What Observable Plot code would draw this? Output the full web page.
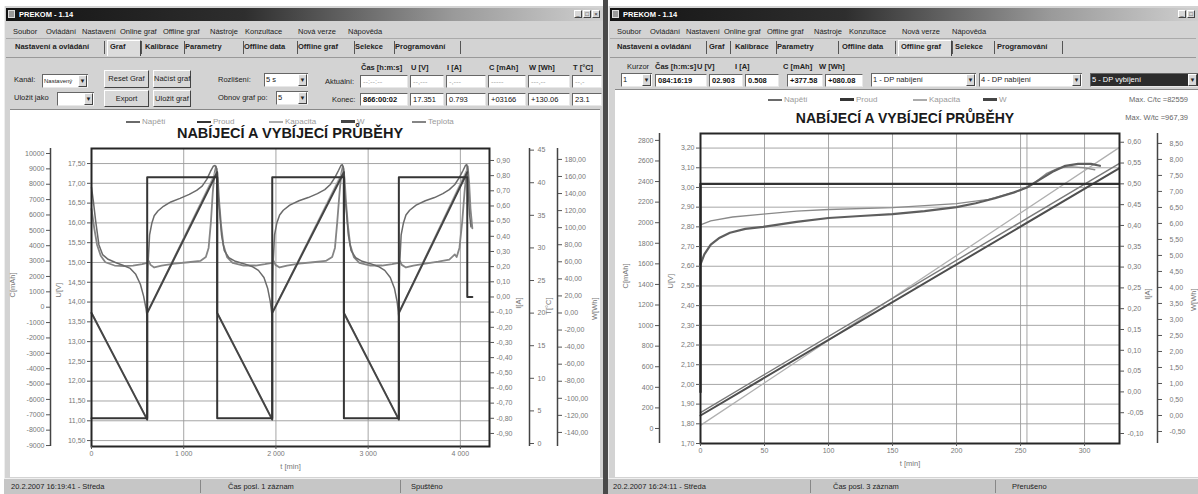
<!DOCTYPE html>
<html><head><meta charset="utf-8">
<script src="https://cdn.jsdelivr.net/npm/d3@7"></script>
<script src="https://cdn.jsdelivr.net/npm/@observablehq/plot@0.6"></script>
<style>
html,body{margin:0;padding:0;background:#fff;}
#root{position:relative;width:1198px;height:494px;overflow:hidden;font-family:"Liberation Sans",Arial,sans-serif;font-size:7.5px;color:#222;}
.a{position:absolute;white-space:nowrap;box-sizing:border-box;}
.tb{background:linear-gradient(to right,#141414 0%,#2e2e2e 40%,#9a9a9a 75%,#cfcfcf 100%);}
.btn{background:#d8d8d8;border-top:1px solid #fff;border-left:1px solid #fff;border-right:1px solid #444;border-bottom:1px solid #444;text-align:center;}
.inp{background:#fff;border-top:1px solid #666;border-left:1px solid #666;border-right:1px solid #e8e8e8;border-bottom:1px solid #e8e8e8;padding-left:2px;overflow:hidden;}
.sw{display:inline-block;width:14px;height:2px;vertical-align:middle;margin-right:2px;}
</style></head><body><div id="root"></div>
<script>
// ================= DATA =================
const seriesNames = ["Napětí", "Proud", "Kapacita", "W", "Teplota"];
const chartTitle = "NABÍJECÍ A VYBÍJECÍ PRŮBĚHY";

// ---- Left chart (online graf): t [min] ----
const leftXTicks = [0, 1000, 2000, 3000, 4000];
const leftXTickLabels = ["0", "1 000", "2 000", "3 000", "4 000"];
const leftUTicks = [17.5, 17.0, 16.5, 16.0, 15.5, 15.0, 14.5, 14.0, 13.5, 13.0, 12.5, 12.0, 11.5, 11.0, 10.5];
const leftCTicks = [10000, 9000, 8000, 7000, 6000, 5000, 4000, 3000, 2000, 1000, 0, -1000, -2000, -3000, -4000, -5000, -6000, -7000, -8000, -9000];
const leftITicks = [0.9, 0.8, 0.7, 0.6, 0.5, 0.4, 0.3, 0.2, 0.1, 0.0, -0.1, -0.2, -0.3, -0.4, -0.5, -0.6, -0.7, -0.8, -0.9];
const leftTTicks = [45, 40, 35, 30, 25, 20, 15, 10, 5, 0];
const leftWTicks = [180, 160, 140, 120, 100, 80, 60, 40, 20, 0, -20, -40, -60, -80, -100, -120, -140];

// Napětí U [V]
const leftU = [
  [0,16.90],[20,16.55],[45,16.05],[80,15.45],[120,15.20],[180,15.08],[260,15.00],[340,14.93],[420,14.85],[480,14.70],[530,14.45],[565,14.15],[590,13.85],[604,13.62],
  [612,14.90],[630,15.70],[655,16.00],[680,16.18],[720,16.30],[780,16.42],[860,16.53],[960,16.62],[1060,16.72],[1140,16.82],[1200,16.93],[1250,17.10],[1290,17.30],[1320,17.43],[1340,17.45],[1355,17.38],[1363,17.20],
  [1368,16.85],[1385,16.40],[1410,15.70],[1440,15.30],[1490,15.12],[1560,15.03],[1650,14.97],[1740,14.90],[1810,14.80],[1870,14.62],[1910,14.35],[1940,14.00],[1960,13.62],
  [1968,14.90],[1985,15.70],[2010,16.00],[2040,16.20],[2080,16.32],[2150,16.45],[2250,16.56],[2350,16.64],[2450,16.74],[2530,16.84],[2590,16.97],[2640,17.15],[2680,17.33],[2705,17.45],[2720,17.47],[2732,17.40],[2737,17.20],
  [2742,16.85],[2760,16.40],[2785,15.70],[2815,15.30],[2865,15.12],[2935,15.03],[3025,14.97],[3110,14.90],[3180,14.80],[3240,14.62],[3285,14.35],[3315,14.00],[3333,13.62],
  [3341,14.90],[3358,15.70],[3383,16.00],[3410,16.20],[3450,16.32],[3520,16.45],[3620,16.56],[3720,16.64],[3810,16.74],[3880,16.84],[3940,16.97],[3990,17.15],[4030,17.33],[4055,17.45],[4070,17.47],[4078,17.35],
  [4085,16.80],[4100,16.20],[4115,15.90]
];
// Proud I [A]
const leftI = [[0,-0.80],[604,-0.80],[604,0.79],[1363,0.79],[1363,-0.80],[1960,-0.80],[1960,0.79],[2737,0.79],[2737,-0.80],[3333,-0.80],[3333,0.79],[4075,0.79],[4075,0.00],[4130,0.00]];
// Kapacita C [mAh]
const leftC = [[0,-350],[604,-7300],[604,-350],[1363,9000],[1363,-350],[1960,-7300],[1960,-350],[2737,9000],[2737,-350],[3333,-7300],[3333,-350],[4075,9000]];
// W [Wh]
const leftW = [[0,0],[604,-125],[604,0],[1363,165],[1363,0],[1960,-125],[1960,0],[2737,165],[2737,0],[3333,-125],[3333,0],[4075,165]];
// Teplota T [°C]
const leftT = [
  [0,36],[30,33],[60,30.5],[100,28.8],[150,27.8],[250,27.3],[350,27.2],[450,27.3],[550,27.5],[604,27.7],
  [620,28.0],[640,27.4],[680,27.0],[760,27.3],[900,27.6],[1050,27.8],[1180,28.0],[1240,28.6],[1270,30],[1295,34],[1315,38.5],[1335,41.5],[1350,42.5],[1363,41.5],
  [1370,40.5],[1385,37],[1405,33.5],[1430,30.5],[1470,28.6],[1530,27.7],[1650,27.3],[1780,27.3],[1880,27.5],[1960,27.7],
  [1975,28.0],[1995,27.4],[2040,27.0],[2120,27.3],[2250,27.6],[2400,27.8],[2540,28.0],[2610,28.6],[2640,30],[2665,34],[2690,38.5],[2710,41.5],[2725,42.5],[2737,41.5],
  [2745,40.5],[2760,37],[2780,33.5],[2805,30.5],[2845,28.6],[2905,27.7],[3025,27.3],[3150,27.3],[3260,27.5],[3333,27.7],
  [3345,28.0],[3365,27.4],[3410,27.0],[3490,27.3],[3620,27.6],[3760,27.9],[3880,28.2],[3940,29.0],[3960,28.6],[3990,30],[4020,34],[4045,38.5],[4065,41.5],[4080,42.5],[4095,40],[4110,36],[4130,33]
];

// ---- Right chart (offline graf): t [min] ----
const rightXTicks = [0, 50, 100, 150, 200, 250, 300];
const rightCursor = [255];
const rightUTicks = [3.2, 3.1, 3.0, 2.9, 2.8, 2.7, 2.6, 2.5, 2.4, 2.3, 2.2, 2.1, 2.0, 1.9, 1.8, 1.7];
const rightCTicks = [2800, 2600, 2400, 2200, 2000, 1800, 1600, 1400, 1200, 1000, 800, 600, 400, 200, 0];
const rightITicks = [0.60, 0.55, 0.50, 0.45, 0.40, 0.35, 0.30, 0.25, 0.20, 0.15, 0.10, 0.05, 0.00, -0.05, -0.10];
const rightWTicks = [8.5, 8.0, 7.5, 7.0, 6.5, 6.0, 5.5, 5.0, 4.5, 4.0, 3.5, 3.0, 2.5, 2.0, 1.5, 1.0, 0.5, 0.0, -0.5];

const rightU1 = [[0,2.61],[3,2.66],[8,2.71],[15,2.745],[23,2.77],[35,2.79],[49,2.80],[75,2.825],[100,2.845],[125,2.855],[150,2.865],[175,2.88],[200,2.90],[215,2.92],[230,2.945],[245,2.975],[255,3.00],[265,3.04],[275,3.08],[285,3.11],[295,3.12],[305,3.12],[312,3.11]];
const rightU2 = [[0,2.81],[8,2.83],[25,2.85],[49,2.865],[75,2.88],[100,2.888],[150,2.898],[200,2.918],[225,2.94],[250,2.985],[260,3.02],[270,3.07],[280,3.10],[290,3.105],[300,3.10],[308,3.09]];
const rightI = [[0,0.00],[0,0.50],[327,0.50]];
const rightC1 = [[0,155],[327,2575]];
const rightC2 = [[0,30],[327,2730]];
const rightW = [[0,0.0],[327,7.72]];

// ================= HELPERS =================
const root = document.getElementById("root");
function el(x, y, w, h, cls, style, text) {
  const d = document.createElement("div");
  d.className = "a " + (cls || "");
  d.style.left = x + "px"; d.style.top = y + "px";
  if (w != null) d.style.width = w + "px";
  if (h != null) d.style.height = h + "px";
  if (style) Object.assign(d.style, style);
  if (text != null) d.textContent = text;
  root.appendChild(d);
  return d;
}
function txt(x, yc, t, style) { return el(x, yc - 5, null, 10, "", Object.assign({lineHeight: "10px"}, style || {}), t); }
function combo(x, y, w, h, t, dark, fs) {
  const b = el(x, y, w - 10, h, "inp", {lineHeight: (h - 2) + "px", background: dark ? "#2c2c2c" : "#fff", color: dark ? "#fff" : "#222", borderRight: "none", fontSize: fs || "7.5px", paddingLeft: "1px"}, t);
  el(x + w - 10, y, 10, h, "", {background: dark ? "#2c2c2c" : "#fff", borderTop: "1px solid #666", borderBottom: "1px solid #e8e8e8"});
  el(x + w - 10, y + 1, 9, h - 2, "btn", {lineHeight: (h - 4) + "px", fontSize: "6px"}, "▼");
  return b;
}
function button(x, y, w, h, t) { return el(x, y, w, h, "btn", {lineHeight: (h - 2) + "px"}, t); }
function box(x, y, w, h, t, color, bold) { return el(x, y, w, h, "inp", {lineHeight: (h - 2) + "px", color: color || "#222", fontWeight: bold ? "bold" : "normal"}, t); }

function windowChrome(ox, w, tabs, selTab) {
  el(ox, 6, w, 488, "", {background: "#d3d3d3", borderLeft: "1px solid #eee"});
  el(ox + 2, 8, w - 2, 13, "tb");
  el(ox + 4, 10, 7, 8, "", {background: "#9a9a9a", border: "1px solid #ddd"});
  el(ox + 15, 8, null, 13, "", {color: "#fff", fontWeight: "bold", fontSize: "7.5px", lineHeight: "13px"}, "PREKOM - 1.14");
  const menu = [["Soubor", 9], ["Ovládání", 42], ["Nastavení", 78], ["Online graf", 116], ["Offline graf", 159], ["Nástroje", 206], ["Konzultace", 241], ["Nová verze", 294], ["Nápověda", 344]];
  for (const [m, x] of menu) txt(ox + x, 32, m);
  el(ox + 2, 38, w - 4, 1, "", {background: "#aaa"});
  for (const [t, x, wd] of tabs) {
    if (t === selTab) el(ox + x - 3, 40, wd + 6, 16, "", {background: "#dcdcdc", borderTop: "1px solid #fff", borderLeft: "1px solid #fff", borderRight: "1px solid #444"});
    txt(ox + x, 47, t, {fontWeight: "bold"});
    el(ox + x + wd + 3, 41, 1, 13, "", {background: "#555"});
  }
  el(ox + 2, 57, w - 4, 1, "", {background: "#999"});
}

// ================= CHROME =================
el(603, 0, 5, 494, "", {background: "#4a4a4a"});
windowChrome(4, 599, [["Nastavení a ovládání", 11, 86], ["Graf", 106, 28], ["Kalibrace", 141, 36], ["Parametry", 181, 55], ["Offline data", 240, 50], ["Offline graf", 294, 53], ["Selekce", 351, 36], ["Programování", 391, 62]], "Graf");
windowChrome(608, 590, [["Nastavení a ovládání", 9, 86], ["Graf", 101, 18], ["Kalibrace", 127, 38], ["Parametry", 169, 58], ["Offline data", 234, 50], ["Offline graf", 293, 48], ["Selekce", 347, 36], ["Programování", 389, 62]], "Offline graf");
for (const bx of [574, 583, 592]) el(bx, 10, 8, 8, "btn", {fontSize: "6px", lineHeight: "6px"}, bx === 574 ? "_" : bx === 583 ? "□" : "×");
for (const bx of [1178, 1187]) el(bx, 10, 8, 8, "btn", {fontSize: "6px", lineHeight: "6px"}, bx === 1178 ? "_" : "□");

// Left toolbar
txt(14, 80, "Kanál:"); combo(42, 74, 46, 14, "Nastavený", false, "6px");
txt(14, 98, "Uložit jako"); combo(57, 92, 37, 14, "");
button(104, 70, 45, 18, "Reset Graf"); button(153, 70, 38, 18, "Načíst graf");
button(104, 90, 45, 17, "Export"); button(153, 90, 38, 17, "Uložit graf");
txt(218, 80, "Rozlišení:"); combo(264, 73, 44, 14, "5 s");
txt(218, 98, "Obnov graf po:"); combo(276, 91, 32, 14, "5");
txt(325, 82, "Aktuální:"); txt(332, 100, "Konec:");
const lHead = [["Čas [h:m:s]", 360, 48], ["U [V]", 410, 34], ["I [A]", 446, 40], ["C [mAh]", 488, 38], ["W [Wh]", 528, 42], ["T [°C]", 572, 30]];
const lCur = ["--:--:--", "--,---", "-,---", "-----", "---,--", "--,-"];
const lEnd = ["866:00:02", "17.351", "0.793", "+03166", "+130.06", "23.1"];
lHead.forEach(([h, x, w], i) => {
  txt(x + 1, 68, h, {fontWeight: "bold"});
  box(x, 75, w, 13, lCur[i], "#aaa");
  box(x, 93, w, 13, lEnd[i], "#111", i === 0);
});
el(10, 109, 590, 368, "", {background: "#fff", borderTop: "1px solid #888"});
el(4, 478, 599, 16, "", {background: "#c6c6c6", borderTop: "1px solid #f0f0f0"});
txt(11, 487, "20.2.2007 16:19:41 - Středa"); el(200, 480, 1, 13, "", {background: "#888"});
txt(228, 487, "Čas posl. 1 záznam"); el(400, 480, 1, 13, "", {background: "#888"});
txt(411, 487, "Spuštěno");

// Right toolbar
const rHead = [["Kurzor", 627], ["Čas [h:m:s]", 655], ["U [V]", 697], ["I [A]", 735], ["C [mAh]", 783], ["W [Wh]", 819]];
rHead.forEach(([h, x], i) => txt(x, 67, h, {fontWeight: i ? "bold" : "normal"}));
combo(621, 73, 31, 14, "1");
[["084:16:19", 655, 52], ["02.903", 709, 34], ["0.508", 745, 34], ["+377.58", 787, 36], ["+080.08", 825, 38]].forEach(([t, x, w]) => box(x, 74, w, 13, t, "#111", true));
combo(871, 73, 105, 14, "1 - DP nabíjení"); combo(979, 73, 103, 14, "4 - DP nabíjení"); combo(1090, 73, 108, 14, "5 - DP vybíjení", true);
el(615, 89, 583, 388, "", {background: "#fff", borderTop: "1px solid #888"});
el(608, 478, 590, 16, "", {background: "#c6c6c6", borderTop: "1px solid #f0f0f0"});
txt(613, 487, "20.2.2007 16:24:11 - Středa"); el(810, 480, 1, 13, "", {background: "#888"});
txt(833, 487, "Čas posl. 3 záznam"); el(995, 480, 1, 13, "", {background: "#888"});
txt(1012, 487, "Přerušeno");

// ================= CHARTS =================
const colors = {U: "#6a6a6a", I: "#353535", C: "#ababab", W: "#454545", T: "#858585"};
const comma = (v, d) => v.toFixed(d).replace(".", ",");

function legend(x0, yc, items) {
  for (const [name, col, x, w] of items) {
    const d = el(x0 + x, yc - 5, null, 10, "", {lineHeight: "10px", color: "#9a9a9a", fontSize: "8px"});
    d.innerHTML = `<span class="sw" style="background:${col};height:${w}px"></span>${name}`;
  }
}

function makeChart(cfg) {
  const [u0, u1] = cfg.uDomain;
  const conv = ax => v => u0 + (v - ax.domain[0]) * (u1 - u0) / (ax.domain[1] - ax.domain[0]);
  const marks = [];
  marks.push(Plot.ruleY(cfg.uTicks, {stroke: "#9c9c9c", strokeWidth: 0.9}));
  marks.push(Plot.ruleX(cfg.xGrid, {stroke: "#9c9c9c", strokeWidth: 0.9}));
  for (const s of cfg.series) {
    const f = s.axis ? conv(s.axis) : (v => v);
    const rows = s.data.map(([t, v]) => ({t, y: f(v)}));
    marks.push(Plot.line(rows, {x: "t", y: "y", stroke: s.color, strokeWidth: s.width, strokeLinejoin: "round"}));
  }
  marks.push(Plot.frame({stroke: "#262626", strokeWidth: 2}));
  const xl = new Map(cfg.xTicks.map((d, i) => [d, cfg.xLabels[i]]));
  marks.push(Plot.axisX(cfg.xTicks, {label: null, tickSize: 3, tickPadding: 2, tickFormat: d => xl.get(d), fill: "#777", stroke: "#555"}));
  marks.push(Plot.text([cfg.xTitle], {frameAnchor: "bottom", dy: 22, fill: "#777", fontSize: 7.5}));
  marks.push(Plot.axisY(cfg.uTicks, {label: null, anchor: "left", tickSize: 4, tickPadding: 2, tickFormat: d => comma(d, 2), fill: "#777", stroke: "#555"}));
  for (const ax of cfg.axes) {
    const f = conv(ax);
    const vals = ax.ticks.map(f);
    const lab = new Map(vals.map((v, i) => [v, ax.fmt(ax.ticks[i])]));
    const right = ax.side === "right";
    marks.push(Plot.axisY(vals, {label: null, anchor: ax.side, dx: ax.dx, tickSize: 4, tickPadding: ax.pad || 2, tickFormat: d => lab.get(d), fill: "#777", stroke: "#555"}));
    if (ax.dx !== 0) marks.push(Plot.ruleX([right ? cfg.xDomain[1] : cfg.xDomain[0]], {dx: ax.dx, y1: u0, y2: u1, stroke: "#444", strokeWidth: 1.5}));
  }
  for (const [t, dx] of cfg.titles) {
    marks.push(Plot.text([t], {frameAnchor: dx < 0 ? "left" : "right", dx, rotate: -90, fill: "#777", fontSize: 7.5}));
  }
  const svg = Plot.plot({
    width: cfg.width, height: cfg.height,
    marginLeft: cfg.m[0], marginRight: cfg.m[1], marginTop: cfg.m[2], marginBottom: cfg.m[3],
    x: {domain: cfg.xDomain, label: null}, y: {domain: cfg.uDomain, label: null},
    style: {fontFamily: "Liberation Sans, Arial, sans-serif", fontSize: "7px", background: "transparent", overflow: "visible"},
    marks
  });
  svg.style.position = "absolute";
  svg.style.left = cfg.left + "px";
  svg.style.top = cfg.top + "px";
  root.appendChild(svg);
}

// Left chart: frame 91..489 x 148..446
makeChart({
  left: 0, top: 110, width: 604, height: 368, m: [91, 115, 38, 32],
  xDomain: [0, 4316], xTicks: leftXTicks, xLabels: leftXTickLabels, xGrid: leftXTicks, xTitle: "t [min]",
  uDomain: [10.35, 17.88], uTicks: leftUTicks,
  axes: [
    {name: "C", side: "left", dx: -41, domain: [-9063, 10325], ticks: leftCTicks, fmt: v => String(v)},
    {name: "I", side: "right", dx: 0, domain: [-0.986, 0.979], ticks: leftITicks, fmt: v => comma(v, 2), pad: 3},
    {name: "T", side: "right", dx: 40, domain: [-0.46, 45.25], ticks: leftTTicks, fmt: v => String(v), pad: 4},
    {name: "W", side: "right", dx: 68, domain: [-156.5, 192.8], ticks: leftWTicks, fmt: v => comma(v, 2), pad: 3}
  ],
  titles: [["C[mAh]", -79], ["U[V]", -33], ["I[A]", 29], ["T[°C]", 59], ["W[Wh]", 105]],
  series: [
    {data: leftT, axis: {domain: [-0.46, 45.25]}, color: colors.T, width: 1.8},
    {data: leftC, axis: {domain: [-9063, 10325]}, color: colors.C, width: 1.3},
    {data: leftU, color: colors.U, width: 1.5},
    {data: leftW, axis: {domain: [-156.5, 192.8]}, color: colors.W, width: 2},
    {data: leftI, axis: {domain: [-0.986, 0.979]}, color: colors.I, width: 2}
  ]
});
legend(0, 122, [["Napětí", colors.U, 126, 2], ["Proud", colors.I, 197, 2], ["Kapacita", colors.C, 269, 2], ["W", colors.W, 341, 3], ["Teplota", colors.T, 412, 2]]);
el(90, 125, 400, 17, "", {textAlign: "center", fontWeight: "bold", fontSize: "14.5px", lineHeight: "17px", color: "#1a1a1a"}, chartTitle);

// Right chart: frame 700..1119 x 133..443
makeChart({
  left: 607, top: 90, width: 591, height: 388, m: [93, 79, 43, 35],
  xDomain: [0, 327.3], xTicks: rightXTicks, xLabels: rightXTicks.map(String), xGrid: rightXTicks.concat(rightCursor), xTitle: "t [min]",
  uDomain: [1.70, 3.274], uTicks: rightUTicks,
  axes: [
    {name: "C", side: "left", dx: -41, domain: [-146, 2867], ticks: rightCTicks, fmt: v => String(v)},
    {name: "I", side: "right", dx: 0, domain: [-0.124, 0.621], ticks: rightITicks, fmt: v => comma(v, 2), pad: 4},
    {name: "W", side: "right", dx: 38, domain: [-0.875, 8.81], ticks: rightWTicks, fmt: v => comma(v, 2), pad: 8}
  ],
  titles: [["C[mAh]", -75], ["U[V]", -30], ["I[A]", 28], ["W[Wh]", 74]],
  series: [
    {data: rightC2, axis: {domain: [-146, 2867]}, color: "#b0b0b0", width: 1.3},
    {data: rightC1, axis: {domain: [-146, 2867]}, color: "#7a7a7a", width: 1.4},
    {data: rightW, axis: {domain: [-0.875, 8.81]}, color: "#4e4e4e", width: 2},
    {data: rightU2, color: "#8a8a8a", width: 1.3},
    {data: rightU1, color: "#5e5e5e", width: 2.2},
    {data: rightI, axis: {domain: [-0.124, 0.621]}, color: "#333", width: 2.4}
  ]
});
legend(0, 100, [["Napětí", colors.U, 768, 2], ["Proud", colors.I, 840, 3], ["Kapacita", colors.C, 913, 2], ["W", colors.W, 983, 3]]);
el(700, 110, 410, 17, "", {textAlign: "center", fontWeight: "bold", fontSize: "14px", lineHeight: "17px", color: "#1a1a1a"}, chartTitle);
el(1100, 95, 88, 10, "", {textAlign: "right", lineHeight: "10px", color: "#666"}, "Max. C/tc =82559");
el(1100, 113, 88, 10, "", {textAlign: "right", lineHeight: "10px", color: "#666"}, "Max. W/tc =967,39");
</script></body></html>
